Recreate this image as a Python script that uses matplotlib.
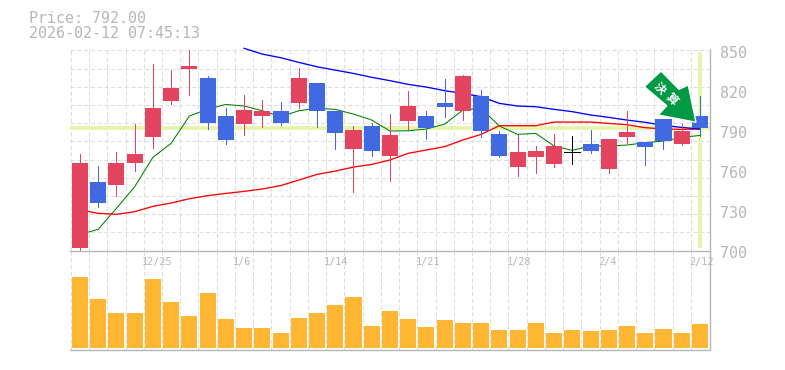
import numpy as np
import matplotlib
matplotlib.use("Agg")
import matplotlib.pyplot as plt
from matplotlib.patches import Polygon
from matplotlib.transforms import IdentityTransform

plt.rcParams['font.family'] = ['DejaVu Sans Mono']

# values
opens = [702.0, 751.4, 749.2, 765.6, 785.1, 812.0, 836.0, 829.3, 800.8, 794.8, 800.8, 804.6,
         810.5, 825.5, 804.6, 776.1, 793.3, 770.9, 797.1, 800.8, 810.5, 804.6, 815.8, 787.3,
         762.6, 770.1, 764.9, 773.6, 779.9, 761.1, 785.1, 781.4, 798.6, 779.9, 800.8]
closes = [765.6, 735.7, 765.6, 772.4, 806.8, 821.8, 838.2, 795.6, 782.9, 805.3, 804.6, 795.6,
          829.3, 804.6, 788.1, 790.3, 774.6, 786.6, 808.3, 791.8, 807.5, 830.8, 789.6, 770.9,
          773.9, 774.6, 778.4, 773.6, 774.6, 783.6, 788.8, 777.6, 782.1, 789.6, 791.8]
highs = [772.4, 763.4, 773.9, 794.8, 839.7, 835.2, 850.2, 830.8, 806.8, 816.5, 812.8, 811.3,
         836.7, 825.5, 804.6, 793.3, 795.6, 802.3, 819.5, 804.6, 828.5, 831.5, 820.3, 789.6,
         786.6, 778.4, 787.3, 785.8, 790.3, 783.6, 804.6, 781.4, 798.6, 794.8, 815.8]
lows = [700.0, 732.7, 740.9, 759.6, 776.9, 809.8, 816.5, 791.1, 779.9, 786.6, 792.6, 794.1,
        806.8, 792.6, 776.1, 743.9, 770.9, 752.2, 791.1, 783.6, 800.1, 797.8, 785.1, 770.1,
        755.9, 758.1, 762.6, 764.9, 773.1, 758.1, 780.6, 764.1, 776.1, 779.1, 785.8]
volumes = [71, 49, 35, 35, 69, 46, 32, 55, 29, 20, 20, 15, 30, 35, 43, 51, 22, 37,
           29, 21, 28, 25, 25, 18, 18, 25, 15, 18, 17, 18, 22, 15, 19, 15, 24]
ma_short = [712.2, 716.0, 731.7, 747.9, 769.9, 780.4, 800.8, 806.1, 809.5, 808.3, 804.8, 800.3,
            804.8, 806.6, 805.8, 802.3, 797.8, 789.6, 789.8, 791.1, 794.8, 805.3, 806.6, 793.3,
            787.1, 787.8, 778.4, 775.1, 778.4, 778.4, 779.1, 780.9, 782.1, 784.8, 786.3]
ma_mid = [730.5, 728.0, 727.2, 729.2, 733.2, 735.7, 738.9, 741.2, 742.9, 744.4, 746.2, 748.7,
          752.9, 757.1, 759.6, 762.6, 764.6, 767.9, 772.9, 775.4, 777.9, 782.9, 787.1, 793.6,
          793.6, 793.6, 796.3, 796.3, 796.3, 795.3, 794.3, 792.1, 791.1, 790.8, 791.1]
ma_long = [np.nan] * 9 + [851.5, 847.2, 844.5, 841.0, 837.7, 835.2, 832.7, 829.8, 827.3, 824.5,
                          822.5, 819.8, 817.8, 815.3, 810.3, 808.3, 807.8, 805.8, 804.1, 801.6,
                          799.8, 797.8, 796.1, 793.8, 792.3, 791.1]
price = 792.0
date_pos = [4, 9, 14, 19, 24, 29, 34]
date_labels = ['12/25', '1/6', '1/14', '1/21', '1/28', '2/4', '2/12']
price_ticks = [700, 730, 760, 790, 820, 850]

RED = '#e34460'
BLUE = '#4169e1'
GREY = '#b6b6b6'
GRID = '#dddddd'
PALE = '#e4f5a6'
W, H = 785, 370
DASH = (0, (4, 2.5))

fig = plt.figure(figsize=(W / 100, H / 100), dpi=100)
x = np.arange(len(opens))
xlim = (-0.53, 34.55)

# main chart, top edge a bit above the 850 line
ax = fig.add_axes([70.3 / W, 1 - 250.7 / H, (710 - 70.3) / W, (250.7 - 45) / H])
ax.set_xlim(xlim)
ax.set_ylim(700, 854)
ax.axis('off')

vol = fig.add_axes([70.3 / W, 1 - 350 / H, (710 - 70.3) / W, (350 - 250.7) / H])
vol.set_xlim(xlim)
vol.set_ylim(-2, 97.3)
vol.axis('off')

# grid
grid_x = np.arange(-0.5, 34, 1)
ax.hlines(np.linspace(700, 850, 12)[1:], xlim[0], xlim[1], color=GRID, lw=0.75, ls=DASH, zorder=1)
ax.vlines(grid_x, 700, 850, color=GRID, lw=0.75, ls=DASH, zorder=1)
vol.vlines(grid_x, -2, 97.3, color=GRID, lw=0.75, ls=DASH, zorder=1)

# current price cross
ax.axhline(price, color=PALE, lw=2.6, zorder=2)
ax.vlines(x[-1], 702, 849, color=PALE, lw=2.6, zorder=2)

ax.plot(x, ma_short, color='#008000', lw=0.75, zorder=3)
ax.plot(x, ma_mid, color='#ff0000', lw=0.95, zorder=3)
ax.plot(x, ma_long, color='#0000ff', lw=0.95, zorder=3, clip_on=False)

# candles
for i in x:
    o, c = opens[i], closes[i]
    if c > o:
        col = RED
    elif c < o:
        col = BLUE
    else:
        col = 'black'
    ax.vlines(i, lows[i], highs[i], color=col, lw=0.7, zorder=4, antialiased=False)
    if c == o:
        ax.hlines(o, i - 0.44, i + 0.44, color=col, lw=0.7, zorder=4, antialiased=False)
    else:
        ax.bar(i, abs(c - o), bottom=min(o, c), width=0.88, color=col, zorder=4, lw=0)

vol.bar(x, volumes, width=0.88, color='#ffb733', lw=0, zorder=3)

# axis lines
ax.axhline(700, color=GREY, lw=1, zorder=5, clip_on=False)
vol.axhline(-2, color=GREY, lw=1, zorder=5, clip_on=False)
ax.vlines(xlim[1], 700, 851, color=GREY, lw=1, zorder=5, clip_on=False)
vol.vlines(xlim[1], -2, 97.3, color=GREY, lw=1, zorder=5, clip_on=False)

for v in price_ticks:
    ax.annotate(str(v), xy=(1, v), xycoords=('axes fraction', 'data'),
                xytext=(10, -2.7), textcoords='offset pixels',
                ha='left', va='center', color=GREY, fontsize=10.8)

for p, lab in zip(date_pos, date_labels):
    vol.annotate(lab, xy=(p, 1), xycoords=('data', 'axes fraction'),
                 xytext=(-11, -11.5), textcoords='offset pixels',
                 ha='left', va='center', color=GREY, fontsize=7.3)

fig.text(29 / W, 1 - 18.5 / H, 'Price: 792.00', color=GREY, fontsize=10.8, ha='left', va='center')
fig.text(29 / W, 1 - 33.5 / H, '2026-02-12 07:45:13', color=GREY, fontsize=10.8, ha='left', va='center')

# green arrow badge, in pixels
arrow = [(644.3, 86.7), (661, 71), (679, 89.3), (688.3, 85), (696, 122.3), (658.3, 115), (666.7, 105.7)]
fig.add_artist(Polygon([(a, H - b) for a, b in arrow], closed=True, facecolor='#009944',
                       edgecolor='white', lw=1, transform=IdentityTransform(), zorder=10))
for ch, px, py in [('決', 660, 88.3), ('算', 671, 100)]:
    fig.text(px / W, 1 - py / H, ch, color='white', fontsize=8.5, rotation=-45, ha='center', va='center',
             family=['Noto Sans CJK JP', 'DejaVu Sans'], fontweight='bold', rotation_mode='anchor', zorder=11)

fig.savefig('out.png', dpi=100)
